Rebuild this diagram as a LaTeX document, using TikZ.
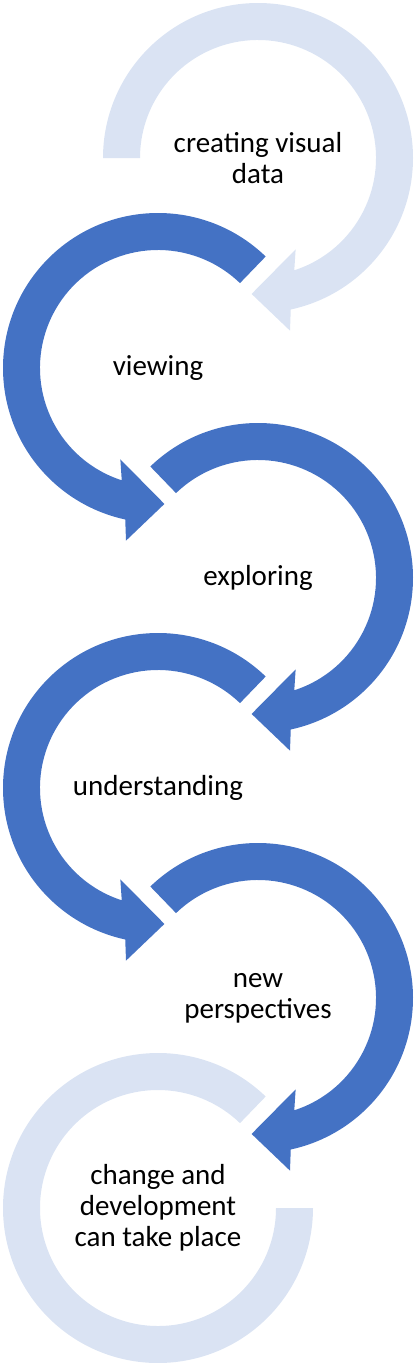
\documentclass[tikz,border=0pt]{standalone}
\usepackage{fontspec}
\setmainfont{Carlito}
\definecolor{ringblue}{HTML}{4472C4}
\definecolor{ringlight}{HTML}{DAE3F3}
\newcommand{\ringright}[2]{% start angle, colour ; clockwise ring with arrowhead at bottom
  \fill[#2] (#1:155) arc[start angle=#1, end angle=437.8, radius=155]
    -- (439.5:175.6) -- (452.7:136.1) -- (427.6:98.8) -- (432.1:118)
    arc[start angle=432.1, end angle=#1, radius=118] -- cycle;}
\newcommand{\ringleft}[2]{% start angle, colour ; counter-clockwise ring with arrowhead at bottom
  \fill[#2] (#1:155) arc[start angle=#1, end angle=102.2, radius=155]
    -- (100.5:175.6) -- (87.3:136.1) -- (112.4:98.8) -- (107.9:118)
    arc[start angle=107.9, end angle=#1, radius=118] -- cycle;}
\begin{document}
\begin{tikzpicture}[x=1pt,y=1pt,yscale=-1,
  steptext/.style={align=center,inner sep=0pt,text=black,font=\fontsize{29}{31}\selectfont}]
\useasboundingbox (0,0) rectangle (417,1363);
% ring 1
\begin{scope}[shift={(258,158)}]
  \ringright{180}{ringlight}
\end{scope}
% ring 2
\begin{scope}[shift={(158,368)}]
  \ringleft{314}{ringblue}
\end{scope}
% ring 3
\begin{scope}[shift={(258,578)}]
  \ringright{226}{ringblue}
\end{scope}
% ring 4
\begin{scope}[shift={(158,788)}]
  \ringleft{314}{ringblue}
\end{scope}
% ring 5
\begin{scope}[shift={(258,998)}]
  \ringright{226}{ringblue}
\end{scope}
% ring 6
\begin{scope}[shift={(158,1208)}]
  \fill[ringlight] (314:155) arc[start angle=314, end angle=0, radius=155]
    -- (0:118) arc[start angle=0, end angle=314, radius=118] -- cycle;
\end{scope}
% texts
\node[steptext] (t1) at (258,158) {creating visual\\data};
\node[steptext] (t2) at (158,368) {viewing};
\node[steptext] (t3) at (258,578) {exploring};
\node[steptext] (t4) at (158,788) {understanding};
\node[steptext] (t5) at (258,998) {new\\perspectives};
\node[steptext] (t6) at (158,1208) {change and\\development\\can take place};
\end{tikzpicture}
\end{document}
